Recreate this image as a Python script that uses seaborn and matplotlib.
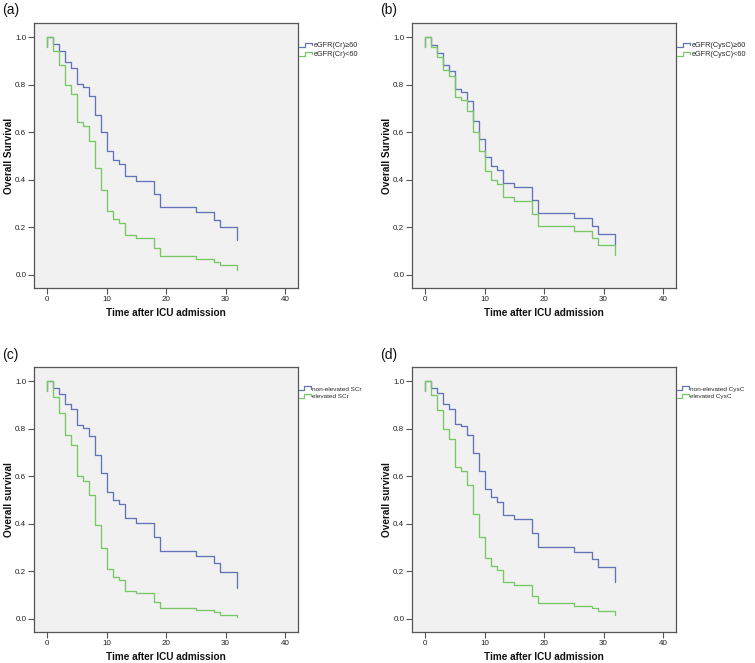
import numpy as np
import pandas as pd
import seaborn as sns
import matplotlib
matplotlib.use("Agg")
import matplotlib.pyplot as plt
from matplotlib.lines import Line2D
from matplotlib.legend_handler import HandlerBase

# ---------------- data ----------------
times = [0, 0, 1, 2, 3, 4, 5, 6, 7, 8, 9, 10, 11, 12, 13, 15, 18, 19, 25, 28, 29, 32]

a_high = [0.96, 1.0, 0.972, 0.94, 0.895, 0.871, 0.801, 0.789, 0.752, 0.671, 0.599, 0.519,
          0.484, 0.467, 0.414, 0.393, 0.340, 0.284, 0.263, 0.232, 0.200, 0.145]
a_low = [0.96, 1.0, 0.94, 0.881, 0.800, 0.759, 0.641, 0.624, 0.565, 0.448, 0.357, 0.269,
         0.235, 0.218, 0.168, 0.154, 0.113, 0.078, 0.067, 0.053, 0.041, 0.022]

b_high = [0.96, 1.0, 0.966, 0.931, 0.881, 0.856, 0.780, 0.769, 0.731, 0.645, 0.573, 0.494,
          0.459, 0.441, 0.386, 0.369, 0.315, 0.260, 0.238, 0.207, 0.173, 0.125]
b_low = [0.96, 1.0, 0.959, 0.917, 0.863, 0.836, 0.750, 0.736, 0.688, 0.600, 0.519, 0.436,
         0.400, 0.383, 0.327, 0.310, 0.256, 0.204, 0.186, 0.157, 0.127, 0.085]

c_high = [0.96, 1.0, 0.972, 0.947, 0.902, 0.881, 0.817, 0.804, 0.768, 0.689, 0.615, 0.535,
          0.501, 0.483, 0.424, 0.405, 0.345, 0.287, 0.265, 0.235, 0.199, 0.132]
c_low = [0.96, 1.0, 0.934, 0.866, 0.775, 0.731, 0.602, 0.581, 0.520, 0.396, 0.300, 0.211,
         0.178, 0.162, 0.119, 0.108, 0.071, 0.046, 0.036, 0.028, 0.018, 0.008]

d_high = [0.96, 1.0, 0.972, 0.948, 0.905, 0.882, 0.818, 0.810, 0.775, 0.696, 0.623, 0.546,
          0.513, 0.493, 0.438, 0.419, 0.363, 0.303, 0.282, 0.251, 0.219, 0.157]
d_low = [0.96, 1.0, 0.940, 0.879, 0.798, 0.758, 0.639, 0.622, 0.563, 0.443, 0.345, 0.256,
         0.221, 0.204, 0.154, 0.141, 0.098, 0.067, 0.056, 0.045, 0.032, 0.015]

panel_tags = ["(a)", "(b)", "(c)", "(d)"]
group_labels = [
    ["eGFR(Cr)\u226560", "eGFR(Cr)<60"],
    ["eGFR(CysC)\u226560", "eGFR(CysC)<60"],
    ["non-elevated SCr", "elevated SCr"],
    ["non-elevated CysC", "elevated CysC"],
]
ylabels = ["Overall Survival", "Overall Survival", "Overall survival", "Overall survival"]
xlabel = "Time after ICU admission"
x_ticks = [0, 10, 20, 30, 40]
y_ticks = [0.0, 0.2, 0.4, 0.6, 0.8, 1.0]
series = [(a_high, a_low), (b_high, b_low), (c_high, c_low), (d_high, d_low)]

# ---------------- style ----------------
sns.set_theme(style="white")
plt.rcParams["font.family"] = ["Liberation Sans", "DejaVu Sans"]

BLUE = "#6472b6"
GREEN = "#78c868"
SPINE = "#555555"
BG = "#f1f1f1"

W, H = 755, 663
fig = plt.figure(figsize=(W / 100, H / 100), dpi=100)

# axes rectangles in pixels: (left, top, right, bottom)
rects = [(34, 23, 298, 288), (412, 23, 676, 288),
         (34, 367, 298, 632), (412, 367, 676, 632)]
tag_pos = [(2, 10), (380, 10), (2, 355), (380, 355)]
legend_fonts = [
    {"family": ["Liberation Sans", "DejaVu Sans"], "size": 5.2},
    {"family": ["Liberation Sans", "DejaVu Sans"], "size": 5.2},
    {"family": ["Liberation Sans Narrow", "Liberation Sans", "DejaVu Sans"], "size": 4.6},
    {"family": ["Liberation Sans Narrow", "Liberation Sans", "DejaVu Sans"], "size": 4.6},
]


class StepHandler(HandlerBase):
    def create_artists(self, legend, orig_handle, xdescent, ydescent,
                       width, height, fontsize, trans):
        fx = np.array([0.0, 0.4, 0.4, 0.9, 0.9])
        fy = np.array([0.15, 0.15, 0.85, 0.85, 0.45])
        ln = Line2D(fx * width - xdescent, fy * height - ydescent,
                    color=orig_handle.get_color(), lw=0.9)
        ln.set_transform(trans)
        return [ln]


for i in range(4):
    l, t, r, b = rects[i]
    ax = fig.add_axes([l / W, 1 - b / H, (r - l) / W, (b - t) / H])
    ax.set_facecolor(BG)
    hi, lo = series[i]
    labs = group_labels[i]
    df = pd.DataFrame({
        "time": times + times,
        "surv": hi + lo,
        "group": [labs[0]] * len(times) + [labs[1]] * len(times),
    })
    sns.lineplot(data=df, x="time", y="surv", hue="group", hue_order=labs,
                 palette=[BLUE, GREEN], estimator=None, sort=False,
                 drawstyle="steps-post", lw=0.95, legend=False, ax=ax)
    ax.set_xlim(-2.25, 42.2)
    ax.set_ylim(-0.055, 1.059)
    ax.set_xticks(x_ticks)
    ax.set_yticks(y_ticks)
    ax.set_xticklabels([str(v) for v in x_ticks])
    ax.set_yticklabels([f"{v:.1f}" for v in y_ticks])
    ax.tick_params(axis="both", direction="out", length=4, width=0.8,
                   color=SPINE, labelsize=5.8, labelcolor="#222222", pad=1.5)
    ax.tick_params(axis="x", bottom=True)
    ax.tick_params(axis="y", left=True)
    for sp in ax.spines.values():
        sp.set_color(SPINE)
        sp.set_linewidth(0.9)
    ax.set_xlabel(xlabel, fontsize=7.2, fontweight="bold", color="#111111", labelpad=4)
    ax.set_ylabel(ylabels[i], fontsize=7.2, fontweight="bold", color="#111111", labelpad=1)

    handles = [Line2D([], [], color=BLUE), Line2D([], [], color=GREEN)]
    ax.legend(handles, labs, loc="upper left", bbox_to_anchor=(1.002, 0.93),
              frameon=False, borderaxespad=0, borderpad=0, handlelength=2.1,
              handleheight=1.0, handletextpad=0.05, labelspacing=0.2,
              prop=legend_fonts[i], handler_map={Line2D: StepHandler()})

    tx, ty = tag_pos[i]
    fig.text(tx / W, 1 - ty / H, panel_tags[i], fontsize=10, va="center",
             ha="left", color="#111111")

fig.savefig("out.png", dpi=100)
